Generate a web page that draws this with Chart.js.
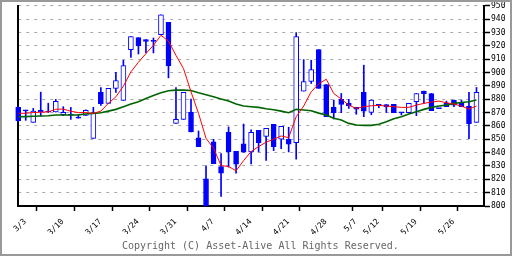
<!DOCTYPE html>
<html>
<head>
<meta charset="utf-8">
<script src="https://cdn.jsdelivr.net/npm/chart.js@4.4.1/dist/chart.umd.min.js"></script>
<style>
    html, body { margin: 0; padding: 0; background: #fff; }
    #frame { width: 508px; height: 252px; border: 2px solid #999; background: #fff; }
    canvas { display: block; }
</style>
</head>
<body>
<div id="frame"><canvas id="stockChart" width="508" height="252"></canvas></div>
<script>

// trading-day index of each weekly tick mark, and of each date label
const tickDays = [0, 5, 10, 15, 20, 25, 30, 35, 40, 45, 50, 55, 60];
const tickLabels = ['3/3', '3/10', '3/17', '3/24', '3/31', '4/7', '4/14', '4/21', '4/28', '5/7', '5/12', '5/19', '5/26'];
const labelDays = [0, 5, 10, 15, 20, 25, 30, 35, 40, 44, 47, 52, 57];

const opens = [874, 871.8, 862.7, 871.6, 871.0, 870.4, 868.4, 868.4, 866.1, 867.9,
    850.7, 885.1, 876.9, 888.1, 879.1, 917.2, 926.1, 924.6, 923.8, 928.4,
    937.6, 861.9, 864.9, 870.4, 851.0, 820.4, 848.0, 829.6, 855.2, 841.0,
    846.5, 840.5, 856.7, 852.2, 861.2, 850.0, 850.0, 847.5, 886.1, 893.3,
    917.2, 891.0, 873.9, 879.9, 876.9, 873.9, 885.1, 870.1, 876.1, 876.0,
    876.1, 870.1, 869.9, 878.1, 886.1, 884.3, 873.2, 876.9, 879.4, 877.4,
    874.9, 862.7];
const highs = [874.5, 871.8, 873.1, 885.3, 877.0, 879.9, 874.4, 873.9, 868.4, 872.0,
    873.9, 888.8, 888.1, 900.2, 909.2, 926.9, 926.1, 924.6, 925.9, 943.3,
    937.6, 888.8, 885.1, 880.1, 856.2, 830.1, 850.0, 839.3, 859.2, 841.0,
    861.4, 857.0, 856.7, 858.2, 861.2, 859.7, 859.0, 929.9, 909.7, 909.2,
    917.2, 891.0, 879.4, 884.3, 879.9, 873.9, 905.5, 879.4, 876.1, 876.0,
    876.1, 870.1, 876.9, 884.3, 886.1, 884.3, 873.2, 878.6, 879.4, 879.4,
    885.1, 888.8];
const lows = [863, 864.2, 862.7, 867.4, 870.0, 870.4, 867.7, 864.9, 865.8, 867.9,
    850.7, 875.4, 876.9, 885.1, 879.1, 911.4, 913.9, 914.7, 914.7, 928.4,
    896.0, 861.9, 864.9, 855.5, 844.5, 800, 831.8, 807.2, 829.1, 824.6,
    840.3, 831.6, 840.5, 834.1, 841.5, 843.0, 840.5, 835.1, 886.1, 891.8,
    888.1, 866.9, 865.2, 869.9, 873.1, 868.7, 866.9, 868.4, 873.6, 870.0,
    869.9, 868.2, 869.9, 867.7, 876.9, 871.4, 872.9, 874.4, 874.4, 874.4,
    850.5, 862.7];
const closes = [864, 871.3, 871.1, 870.4, 870.4, 878.4, 870.1, 868.0, 865.8, 871.6,
    869.9, 876.6, 888.1, 894.0, 905.2, 926.9, 919.9, 923.4, 923.4, 943.3,
    905.0, 864.9, 885.1, 855.5, 844.5, 800, 831.8, 824.6, 840.8, 831.3,
    840.3, 855.2, 847.5, 858.2, 844.5, 859.7, 846.3, 926.9, 893.3, 902.2,
    888.1, 866.9, 869.9, 876.1, 874.9, 872.6, 871.1, 879.4, 875.1, 874.2,
    869.9, 869.8, 876.9, 884.3, 884.1, 871.4, 872.9, 874.4, 875.6, 874.4,
    861.7, 885.1];

const shortAverage = [869.4, 869.5, 870, 870.3, 870.5, 872.5, 872.6, 871, 870, 870,
    869.4, 871.1, 876.9, 881.8, 889.8, 900.5, 907.7, 914.2, 920.4, 927.9,
    923.5, 912.9, 903, 885.6, 869.4, 850.7, 843.3, 830.3, 829.6, 826.4,
    834, 840.8, 844.5, 847.8, 850, 852.5, 851.2, 866.9, 874.9, 885.6,
    891.5, 895, 884.3, 880.1, 875.6, 873.1, 874.4, 875.1, 875.4, 874.9,
    874.4, 873.9, 873.9, 875.6, 876.9, 877.9, 878.6, 877.4, 876.4, 874.9,
    872.6, 874.9];
const longAverage = [866.9, 867, 867.2, 867.4, 867.6, 868.2, 868.2, 868.2, 868.3, 868.9,
    869.4, 869.9, 871.1, 872.4, 874.4, 876.4, 878.1, 880.6, 882.8, 884.8,
    886.3, 886.8, 886.8, 886.5, 884.8, 883.3, 881.8, 880.1, 878.6, 876.4,
    874.9, 874.4, 873.9, 872.9, 872.1, 871.1, 869.9, 872.4, 871.9, 871.4,
    869.6, 868.2, 865.7, 864.4, 861.9, 860.7, 860.4, 860.4, 861.2, 863.2,
    865.4, 866.9, 868.9, 870.6, 872.4, 873.9, 874.9, 875.6, 876.9, 877.6,
    878.1, 879.4];


function isUp(index) {

    return closes[index] > opens[index];
}


function initializeChart() {

    const ctx = document.getElementById('stockChart').getContext('2d');
    const mono = 'DejaVu Sans Mono';
    const xValues = [...new Set([...tickDays, ...labelDays])].sort((a, b) => a - b);

    new Chart(ctx, {

        type: 'bar',
        data: {

            datasets: [
                {
                    type: 'line',
                    data: shortAverage.map((v, i) => ({ x: i, y: v })),
                    borderColor: '#ff0000',
                    borderWidth: 1,
                    pointRadius: 0,
                    order: 0
                },
                {
                    type: 'line',
                    data: longAverage.map((v, i) => ({ x: i, y: v })),
                    borderColor: '#006400',
                    borderWidth: 1.6,
                    pointRadius: 0,
                    order: 0
                },
                {
                    // candle bodies
                    data: opens.map((v, i) => ({ x: i, y: [v, closes[i]] })),
                    backgroundColor: c => isUp(c.dataIndex) ? '#ffffff' : '#0000ff',
                    borderColor: '#0000ff',
                    borderWidth: 1,
                    borderSkipped: false,
                    barThickness: 5,
                    minBarLength: 1,
                    grouped: false,
                    clip: false,
                    order: 1
                },
                {
                    // wicks
                    data: lows.map((v, i) => ({ x: i, y: [v, highs[i]] })),
                    backgroundColor: '#0000ff',
                    borderWidth: 0,
                    barThickness: 1,
                    grouped: false,
                    clip: false,
                    order: 2
                }
            ]
        },
        options: {

            responsive: false,
            animation: false,
            devicePixelRatio: 1,
            layout: { padding: { top: 3.3, left: 8.7, right: 0, bottom: 0 } },
            plugins: {

                legend: { display: false },
                tooltip: { enabled: false },
                title: {
                    display: true,
                    position: 'bottom',
                    text: 'Copyright (C) Asset-Alive All Rights Reserved.',
                    color: '#666666',
                    font: { family: mono, size: 10, weight: 'normal' },
                    padding: { top: 6, bottom: 2 }
                }
            },
            scales: {

                x: {
                    type: 'linear',
                    min: 0,
                    max: 62,
                    offset: false,
                    afterBuildTicks: axis => { axis.ticks = xValues.map(v => ({ value: v })); },
                    afterFit: axis => { axis.height = 28; },
                    grid: {
                        drawOnChartArea: false,
                        tickLength: 5,
                        tickWidth: 1.5,
                        tickColor: c => tickDays.includes(c.tick && c.tick.value) ? '#000' : 'rgba(0,0,0,0)'
                    },
                    border: { color: '#000', width: 2 },
                    ticks: {
                        autoSkip: false,
                        minRotation: 45,
                        maxRotation: 45,
                        padding: 6,
                        labelOffset: 7,
                        color: '#000',
                        font: { family: mono, size: 8 },
                        callback: value => {
                            const k = labelDays.indexOf(value);
                            return k < 0 ? '' : tickLabels[k];
                        }
                    }
                },
                y: {
                    position: 'right',
                    min: 800,
                    max: 950,
                    afterFit: axis => { axis.width = 26; },
                    grid: { color: '#a8a8a8', lineWidth: 1, tickLength: 6, tickColor: '#000', tickWidth: 1.5 },
                    border: { color: '#000', width: 2, dash: [3, 5] },
                    ticks: {
                        stepSize: 10,
                        padding: 1,
                        color: '#000',
                        font: { family: mono, size: 8, lineHeight: 0.7 }
                    }
                },
                yLeft: {
                    position: 'left',
                    min: 800,
                    max: 950,
                    grid: { display: false, drawTicks: false },
                    border: { color: '#000', width: 2 },
                    ticks: { display: false }
                }
            }
        }
    });
}


window.onload = function () {

    initializeChart();
};

</script>
</body>
</html>
